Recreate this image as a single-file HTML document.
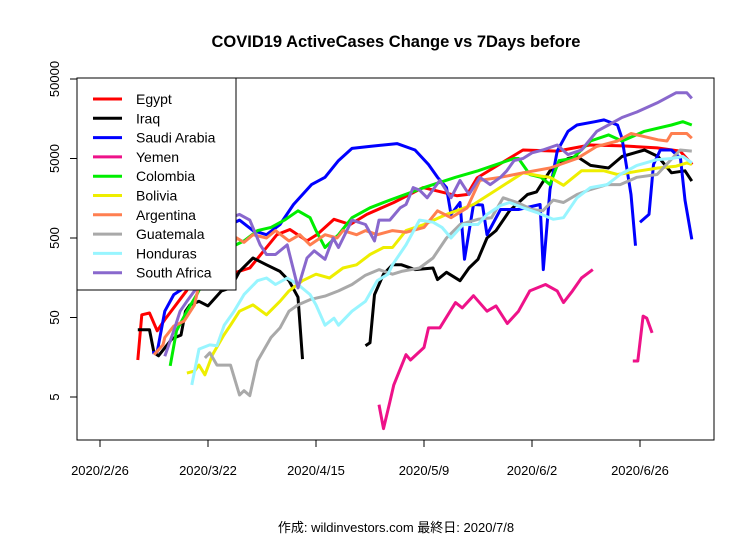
<!DOCTYPE html>
<html><head><meta charset="utf-8"><style>
body{margin:0;background:#fff;}
svg{display:block;font-family:"Liberation Sans","Noto Sans CJK JP",sans-serif;}
</style></head><body>
<svg id="chart" width="756" height="540" viewBox="0 0 756 540">
<rect width="756" height="540" fill="#fff"/>
<text x="396" y="47" text-anchor="middle" font-size="16.5" font-weight="bold">COVID19 ActiveCases Change vs 7Days before</text>
<g id="series"></g>
<g id="axes"></g>
<rect x="77" y="78" width="637" height="362" fill="none" stroke="#000" stroke-width="1"/>
<g id="legend"></g>
<text x="396" y="532" text-anchor="middle" font-size="13">作成: wildinvestors.com 最終日: 2020/7/8</text>
</svg>
<script>
const xTickLabels = ["2020/2/26","2020/3/22","2020/4/15","2020/5/9","2020/6/2","2020/6/26"];
const xTickDays = [0,24,48,72,96,120];
const yTickValues = [5,50,500,5000,50000];
const seriesNames = ["Egypt","Iraq","Saudi Arabia","Yemen","Colombia","Bolivia","Argentina","Guatemala","Honduras","South Africa"];
const seriesColors = ["#ff0000","#000000","#0000ff","#ee1289","#00ee00","#eeee00","#ff7f50","#a9a9a9","#98f5ff","#8968cd"];

const egyptDays = [8.4,9.3,11,12.7,14.4,19.3,20.4,23.8,26.7,28.9,33.3,36.4,39.3,42.2,46,48.2,52,55.6,59.3,65.3,71.8,79.3,81.6,83.8,94,101.6,108.9,116.2,123.8,128.9,131.6];
const egyptValues = [14.6,54,57,34,47,110,157,157,157,175,210,345,550,640,460,550,860,740,990,1400,2150,1700,1760,2850,6400,6200,7400,7200,6800,6200,4200];

const iraqDays = [8.4,11,12,13,16,18,19,20,22,24,27,29,31,34,37,40,42,44,45,null,59,60,61,63,65,67,70,74,75,77,80,82,84,86,88,91,95,97,100,104,106,109,113,116,121,124,127,130,131.5];
const iraqValues = [35,35,18,16.5,27,30,60,72,80,70,108,118,190,280,230,190,145,90,15,null,22,24,97,175,230,230,200,210,150,185,145,210,270,500,620,1100,1760,1900,3500,5000,5300,4100,3800,5300,6400,5300,3300,3500,2600];

const saudiDays = [11.6,12.7,14.4,16.4,18.7,20.4,23,26,29,31,34,37,40,43,47,50,53,56,60,66,70,73,75,77,78,80,81,83,85,86,89,93,97.8,98.5,100,101.6,104,106,110,112,115,116,118,119,null,120,122,123,124.5,127,129,130,131.5];
const saudiValues = [18,18.5,60,97,118,157,230,460,740,840,620,550,740,1320,2350,2900,4700,6700,7100,7700,6400,4200,2900,2150,990,1400,270,1320,1300,550,1140,1140,1320,200,2040,6200,11000,13200,14500,15300,13200,9000,1760,400,null,790,990,4200,6400,6400,5000,1500,480];

const yemenDays = [62,63,64.4,65.3,68,69,72,73,75.5,79,80.5,83,86,88,90.5,93,95.5,99,101.6,103,105,107,109.5,null,118.4,119.5,120.7,121.5,122.7];
const yemenValues = [4,2,4.3,7.1,17,14.6,21,37,37,77,66,94,60,70,42,60,108,130,108,77,108,157,200,null,14.2,14.2,52,49,32];

const colombiaDays = [15.6,17,19.3,21.5,23.8,26.7,29,32,35,38,41,44,46.7,48,50,53,56,60,64.4,72,79,84,92,93,95.5,98,100,102,105,109,113,116,121,127,129.5,131.5];
const colombiaValues = [12.3,34,60,97,175,360,380,460,620,680,840,1100,900,620,380,550,900,1200,1500,2150,2900,3500,5000,5000,3150,2900,2350,4700,5000,8300,9900,8300,11000,13200,14500,13200];

const boliviaDays = [19.3,21,22,23.3,25,27.5,29,31,34,37,40,42,45,48,51,54,57,60,63,65,68,72,77,83,88,94,98,100,103,107,112,115,120,124,128,130.4,131.5];
const boliviaValues = [10,10.6,12.6,9.5,17,30,40,60,72,54,80,108,145,175,157,210,230,310,380,380,620,740,990,1320,2000,3300,3000,2900,2300,3500,3500,3150,3500,3800,4000,4400,4200];

const argentinaDays = [12,14,14.4,16.4,18.7,21,22,24.4,27,29,30.4,32,34,37,39,42,44.4,46.7,50,52.7,54,57,59,61.6,65,68,72,75,78,81.6,84.4,89,94,100,106,110.4,115,118,120.7,124,126,127,130.4,131.5];
const argentinaValues = [17,22.6,28,39,45,72,130,190,345,345,500,440,550,500,620,460,550,410,550,500,620,550,620,550,620,590,680,1100,900,1200,2650,2900,3300,3800,5000,7100,8300,10300,9500,8600,8300,10300,10300,9000];

const guatemalaDays = [23.3,24.4,26,29,31,32,33.3,35,38,40,42,44,46.7,50,53,56,59,62,65,67,71,74,77,80,84,87,89.6,92.7,96,98.4,100.7,103,106,109,112.7,115.6,119.3,123.8,126.7,128.9,131.5];
const guatemalaValues = [15.5,18,12.6,12.6,5.3,6,5.2,14.2,28,37,60,72,84,93,108,130,170,200,175,190,210,280,500,740,860,900,1600,1400,1140,1100,1500,1400,1760,2040,2350,2350,2900,3150,4700,6400,6200];

const hondurasDays = [20.4,22,24.4,26,27.6,29.8,32,35,37,39,41.6,44,46.7,48,50,52,53,56,59,61.6,64,65,68,71,74,76,78,80.7,84,86,89,91,94,97,100.7,103,106,109,112.7,115.6,119.3,123.8,127,129.5,131.5];
const hondurasValues = [7.1,20,22.6,22,40,60,97,145,157,130,157,130,97,72,40,49,40,60,80,145,175,230,410,840,790,680,500,740,740,990,1280,1400,1200,1050,860,900,1600,2150,2350,3150,4100,4850,5000,5300,4400];

const southAfricaDays = [14.4,16.4,17.8,19.3,21,23,25.3,27.6,29,31,33.3,35.6,37,39,41.6,44,46,47.6,50,51.8,53,56,59,61,62,64.4,66.7,68,69.6,71,72.7,75.5,78,80,82,84.4,86.7,89,90.4,92,94,96,98.4,101.6,104,107,110.4,113,116,119.3,123.8,128,130.4,131.5];
const southAfricaValues = [16.3,34,60,80,108,145,230,620,900,990,840,410,310,310,410,118,280,345,270,500,380,840,740,460,840,840,1200,1320,2150,2000,1600,2650,1600,2650,1760,2900,2350,2900,3500,4700,5000,5900,6400,7400,5600,6400,11000,13200,16400,19200,25000,33500,33500,28500];

const allDays = [egyptDays,iraqDays,saudiDays,yemenDays,colombiaDays,boliviaDays,argentinaDays,guatemalaDays,hondurasDays,southAfricaDays];
const allValues = [egyptValues,iraqValues,saudiValues,yemenValues,colombiaValues,boliviaValues,argentinaValues,guatemalaValues,hondurasValues,southAfricaValues];

const NS = "http://www.w3.org/2000/svg";
function xScale(d){ return 100 + 4.5*d; }
function yScale(v){ return 397 - 79.5*Math.log10(v/5); }

const seriesG = document.getElementById('series');
for (let s=0; s<seriesNames.length; s++){
  const days = allDays[s], vals = allValues[s];
  let d = "", pen = false;
  for (let i=0;i<days.length;i++){
    if (days[i]===null || vals[i]===null){ pen=false; continue; }
    d += (pen?"L":"M") + xScale(days[i]).toFixed(1) + "," + yScale(vals[i]).toFixed(1);
    pen = true;
  }
  const p = document.createElementNS(NS,'path');
  p.setAttribute('d', d);
  p.setAttribute('fill','none');
  p.setAttribute('stroke', seriesColors[s]);
  p.setAttribute('stroke-width','3');
  p.setAttribute('stroke-linejoin','round');
  
  
  seriesG.appendChild(p);
}

const axesG = document.getElementById('axes');
for (let i=0;i<xTickDays.length;i++){
  const x = xScale(xTickDays[i]);
  const t = document.createElementNS(NS,'line');
  t.setAttribute('x1',x); t.setAttribute('x2',x); t.setAttribute('y1',440); t.setAttribute('y2',447);
  t.setAttribute('stroke','#000');
  
  
  axesG.appendChild(t);
  const tx = document.createElementNS(NS,'text');
  tx.setAttribute('x',x); tx.setAttribute('y',475);
  tx.setAttribute('text-anchor','middle'); tx.setAttribute('font-size','13');
  tx.textContent = xTickLabels[i];
  
  
  axesG.appendChild(tx);
}
for (let i=0;i<yTickValues.length;i++){
  const y = yScale(yTickValues[i]);
  const t = document.createElementNS(NS,'line');
  t.setAttribute('x1',70); t.setAttribute('x2',77); t.setAttribute('y1',y); t.setAttribute('y2',y);
  t.setAttribute('stroke','#000');
  
  
  axesG.appendChild(t);
  const tx = document.createElementNS(NS,'text');
  tx.setAttribute('x',59); tx.setAttribute('y',y);
  tx.setAttribute('text-anchor','middle'); tx.setAttribute('font-size','13');
  tx.setAttribute('transform','rotate(-90 59 '+y+')');
  tx.textContent = String(yTickValues[i]);
  
  
  axesG.appendChild(tx);
}

const legendG = document.getElementById('legend');
const box = document.createElementNS(NS,'rect');
box.setAttribute('x',77); box.setAttribute('y',78); box.setAttribute('width',159); box.setAttribute('height',212);
box.setAttribute('fill','#fff'); box.setAttribute('stroke','#000');


legendG.appendChild(box);
for (let s=0;s<seriesNames.length;s++){
  const y = 99 + s*19.3;
  const l = document.createElementNS(NS,'line');
  l.setAttribute('x1',93); l.setAttribute('x2',122); l.setAttribute('y1',y); l.setAttribute('y2',y);
  l.setAttribute('stroke',seriesColors[s]); l.setAttribute('stroke-width','3');
  
  
  legendG.appendChild(l);
  const tx = document.createElementNS(NS,'text');
  tx.setAttribute('x',136); tx.setAttribute('y',y+5);
  tx.setAttribute('font-size','14');
  tx.textContent = seriesNames[s];
  
  
  legendG.appendChild(tx);
}
</script>
</body></html>
